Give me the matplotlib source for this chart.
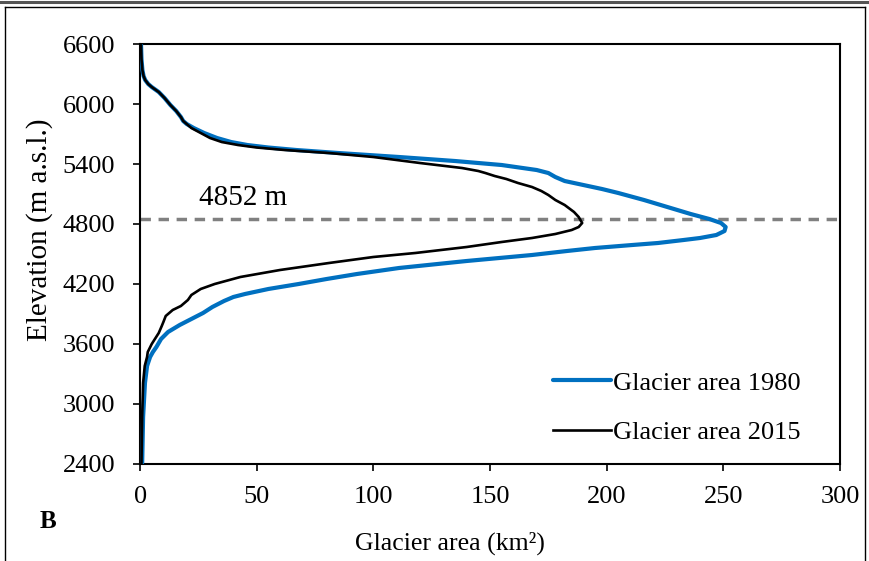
import matplotlib.pyplot as plt
import matplotlib
from matplotlib.lines import Line2D

matplotlib.rcParams['font.family'] = 'Liberation Serif'
matplotlib.rcParams['font.size'] = 18

# Glacier area (km2) vs elevation (m a.s.l.)
elev_1980 = [6600, 6450, 6340, 6280, 6240, 6200, 6170, 6120, 6060, 5990, 5930, 5870,
             5830, 5800, 5760, 5710, 5660, 5620, 5590, 5565, 5540, 5510, 5470, 5430,
             5390, 5340, 5310, 5270, 5230, 5190, 5150, 5110, 5040, 4970, 4900, 4850,
             4810, 4770, 4730, 4690, 4660, 4640, 4610, 4590, 4560, 4530, 4490, 4430,
             4360, 4300, 4250, 4200, 4150, 4100, 4070, 4030, 3970, 3910, 3850, 3790,
             3720, 3650, 3570, 3520, 3470, 3380, 3210, 2870, 2410]
area_1980 = [0.4, 0.6, 1.0, 1.5, 2.2, 3.5, 5, 8, 10.5, 13, 15.5, 17.5,
             18.5, 20, 23, 27.5, 33, 39, 46, 55, 67, 85, 111, 135,
             155, 170, 175, 178, 182, 190, 198, 205, 216, 226, 236, 244,
             249, 251, 250.5, 247, 240, 233, 222, 211, 195, 183, 168, 140,
             111, 93, 80, 68, 55, 45, 40, 36, 31, 27, 22, 17,
             12, 9, 7, 5.5, 4.3, 3, 2.1, 1.3, 0.9]

elev_2015 = [6600, 6450, 6340, 6280, 6240, 6200, 6170, 6120, 6060, 5990, 5930, 5870,
             5830, 5800, 5760, 5710, 5660, 5620, 5590, 5565, 5540, 5510, 5470, 5410,
             5360, 5330, 5310, 5280, 5250, 5210, 5170, 5130, 5090, 5040, 4990, 4920,
             4870, 4810, 4770, 4740, 4700, 4660, 4620, 4570, 4510, 4470, 4410, 4340,
             4270, 4200, 4150, 4120, 4090, 4040, 3980, 3940, 3880, 3820, 3780, 3710,
             3600, 3520, 3470, 3380, 3210, 2870, 2410]
area_2015 = [0.4, 0.6, 1.0, 1.5, 2.2, 3.5, 5, 8, 10.5, 13, 15.5, 17.5,
             18.5, 20, 22, 26, 30, 35, 42, 50, 62, 81, 100, 120,
             138, 145, 148, 152, 157, 162, 168, 172, 175, 178, 182, 186,
             188, 189.5, 188, 185, 178, 168, 155, 140, 118, 100, 81, 60,
             43, 32, 26, 24, 22, 20.5, 17.5, 14, 11, 10, 9.3, 8,
             5, 3.3, 3, 2, 1.3, 0.9, 0.6]

ela = 4852
color_1980 = '#0070C0'

fig = plt.figure(figsize=(8.7, 5.61), dpi=100)
ax = fig.add_axes([0.161, 0.173, 0.8045, 0.7485])

ax.plot(area_1980, elev_1980, color=color_1980, lw=3.0, label='Glacier area 1980',
        solid_joinstyle='round', solid_capstyle='round', zorder=3)
ax.plot(area_2015, elev_2015, color='black', lw=1.9, label='Glacier area 2015',
        solid_joinstyle='round', zorder=4)
ax.axhline(ela, color='#808080', lw=2.5, ls=(0, (3, 2.2)), zorder=2)
ax.text(44, 5060, f'{ela} m', fontsize=21, ha='center', va='center')

ax.set_xlim(0, 300)
ax.set_ylim(2400, 6600)
ax.set_xticks(range(0, 301, 50))
ax.set_yticks(range(2400, 6601, 600))
ax.tick_params(direction='out', length=5, width=1.2, labelsize=19)
ax.tick_params(axis='y', pad=13)
ax.tick_params(axis='x', pad=11)
for s in ax.spines.values():
    s.set_linewidth(1.5)

ax.set_xlabel('Glacier area (km²)', fontsize=18.5)
ax.xaxis.set_label_coords(0.443, -0.162)
ax.set_ylabel('Elevation (m a.s.l.)', fontsize=21)
ax.yaxis.set_label_coords(-0.124, 0.557)

ax.legend(loc='lower right', frameon=False, fontsize=19, handlelength=2.2,
          handletextpad=0.1, bbox_to_anchor=(0.978, -0.01), labelspacing=1.0)

fig.text(40 / 870, 1 - 521 / 561, 'B', fontsize=18, fontweight='bold', ha='left', va='center')

# table-like frame around the figure
fig.add_artist(Line2D([0, 1], [1 - 1.5 / 561] * 2, color='#555555', lw=2.2))
fig.add_artist(Line2D([5 / 870, 865 / 870], [1 - 7 / 561] * 2, color='black', lw=1.0))
fig.add_artist(Line2D([5 / 870] * 2, [0, 1 - 7 / 561], color='black', lw=1.0))
fig.add_artist(Line2D([865 / 870] * 2, [0, 1 - 7 / 561], color='black', lw=1.0))

fig.savefig('out.png', dpi=100)
